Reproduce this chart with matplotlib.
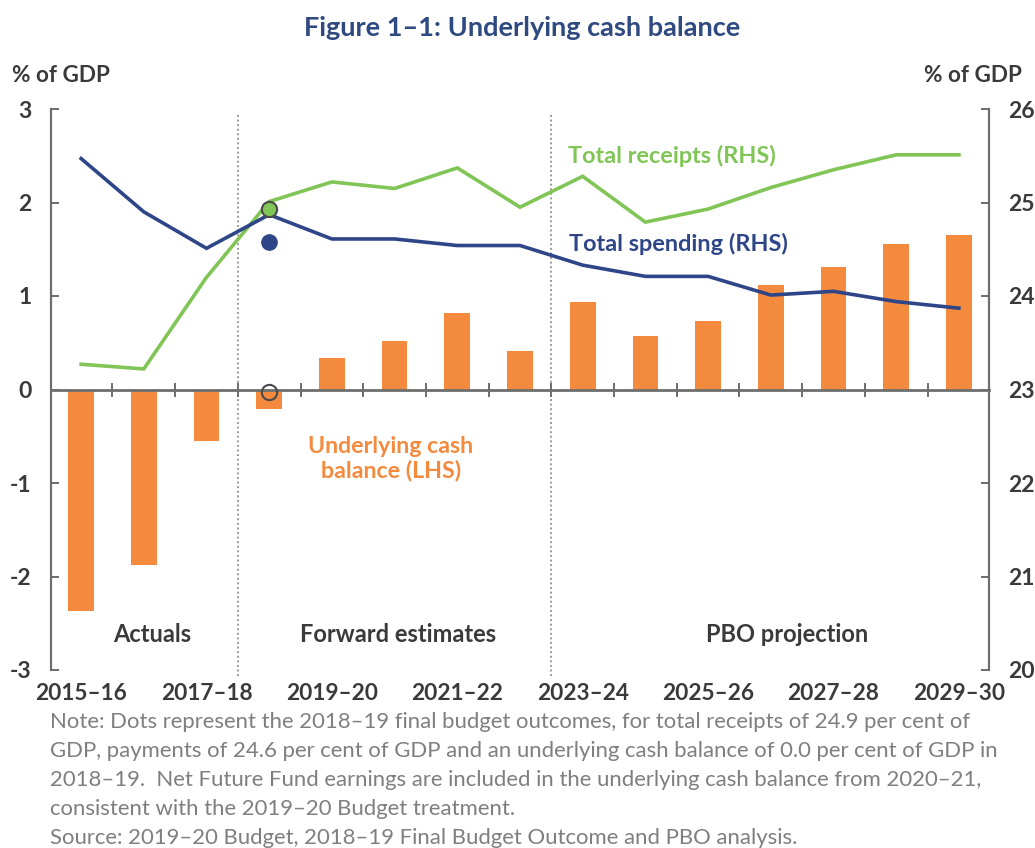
import numpy as np
import matplotlib
matplotlib.use('Agg')
import matplotlib.pyplot as plt
import matplotlib.transforms as mtransforms

plt.rcParams['font.family'] = ['Lato', 'DejaVu Sans']
plt.rcParams['axes.unicode_minus'] = False

# data
years = ['2015–16', '2016–17', '2017–18', '2018–19', '2019–20', '2020–21', '2021–22', '2022–23',
         '2023–24', '2024–25', '2025–26', '2026–27', '2027–28', '2028–29', '2029–30']
cash_balance = [-2.37, -1.88, -0.55, -0.21, 0.34, 0.52, 0.82, 0.41, 0.94, 0.57, 0.73, 1.12, 1.31, 1.56, 1.65]
receipts = [23.27, 23.22, 24.2, 25.01, 25.22, 25.15, 25.37, 24.95, 25.28, 24.79, 24.93, 25.16, 25.35, 25.51, 25.51]
spending = [25.47, 24.9, 24.51, 24.87, 24.61, 24.61, 24.54, 24.54, 24.33, 24.21, 24.21, 24.01, 24.05, 23.94, 23.87]

# 2018-19 final budget outcome dots
outcome_year = '2018–19'
outcome_receipts = 24.93
outcome_spending = 24.58
outcome_cash = -0.03

label_years = years[::2]
period_breaks = [2.5, 7.5]
periods = ['Actuals', 'Forward estimates', 'PBO projection']
period_centres = [1.13, 5.06, 11.26]

orange = '#F48A3E'
green = '#80C556'
navy = '#2E4688'
grey = '#6E6E6E'
text_dark = '#3A3A3A'

x = np.arange(len(years))
xo = years.index(outcome_year)

fig = plt.figure(figsize=(10.35, 8.48), dpi=100)
ax = fig.add_axes([51/1035, 1-670/848, (989-51)/1035, (670-109)/848])
ax2 = ax.twinx()

ax.bar(x, cash_balance, width=0.41, color=orange, zorder=2)
ax.plot(xo, outcome_cash, 'o', ms=11, mfc='none', mec='#4A4A4A', mew=1.5, zorder=5, clip_on=False)

ax2.plot(x, receipts, color=green, lw=2.6, solid_joinstyle='miter')
ax2.plot(x, spending, color=navy, lw=2.6, solid_joinstyle='miter')
ax2.plot(xo, outcome_receipts, 'o', ms=11, mfc=green, mec='#4A4A4A', mew=1.5, zorder=5)
ax2.plot(xo, outcome_spending, 'o', ms=11, mfc=navy, mec=navy, mew=1.0, zorder=5)

ax.set_xlim(-0.48, len(years) - 0.52)
ax.set_ylim(-3, 3)
ax2.set_ylim(20, 26)

# dotted period separators
for b in period_breaks:
    ax.axvline(b, ymin=-0.01, ymax=0.99, color='#7A7A7A', ls=(0, (1.2, 1.8)), lw=1.1, clip_on=False, zorder=1)

# spines
for a in (ax, ax2):
    a.spines['top'].set_visible(False)
ax.spines['right'].set_visible(False)
ax2.spines['left'].set_visible(False)
ax2.spines['bottom'].set_visible(False)
ax.spines['left'].set_color(grey)
ax.spines['left'].set_linewidth(1.6)
ax2.spines['right'].set_color(grey)
ax2.spines['right'].set_linewidth(1.6)
ax.spines['bottom'].set_position(('data', 0))
ax.spines['bottom'].set_color(grey)
ax.spines['bottom'].set_linewidth(2.0)
ax.spines['bottom'].set_zorder(3)

ax.set_xticks(x[:-1] + 0.5)
ax.set_xticklabels([])
ax.tick_params(axis='x', direction='inout', length=10, width=1.4, color=grey)

ax.set_yticks(np.arange(-3, 4, 1))
ax.set_yticklabels([str(v) for v in range(-3, 4)])
ax.tick_params(axis='y', direction='in', length=6, width=1.4, color=grey, pad=14,
               labelsize=16.5, labelcolor=text_dark)
for t in ax.get_yticklabels():
    t.set_fontweight('bold')
ax2.set_yticks(np.arange(20, 27, 1))
ax2.tick_params(axis='y', direction='in', length=6, width=1.4, color=grey, pad=14,
                labelsize=16.5, labelcolor=text_dark)
for t in ax2.get_yticklabels():
    t.set_fontweight('bold')

# year labels along the bottom
trans = mtransforms.blended_transform_factory(ax.transData, ax.transAxes)
for lab in label_years:
    ax.text(years.index(lab), -0.042, lab, transform=trans, ha='center', va='center',
            fontsize=16.3, fontweight='bold', color=text_dark)

# period names
for name, c in zip(periods, period_centres):
    ax.text(c, -2.62, name, ha='center', va='center', fontsize=17, fontweight='bold', color=text_dark)

# series labels
ax2.text(9.43, 25.5, 'Total receipts (RHS)', ha='center', va='center', fontsize=16.9, fontweight='bold', color=green)
ax2.text(9.52, 24.56, 'Total spending (RHS)', ha='center', va='center', fontsize=16.9, fontweight='bold', color=navy)
ax.text(4.94, -0.74, 'Underlying cash\nbalance (LHS)', ha='center', va='center', fontsize=16.7,
        fontweight='bold', color=orange, linespacing=1.15)

fig.text(522/1035, 1-28/848, 'Figure 1–1: Underlying cash balance', ha='center', va='center',
         fontsize=19.5, fontweight='bold', color='#2F4A80')
fig.text(12/1035, 1-75/848, '% of GDP', ha='left', va='center', fontsize=16.2, fontweight='bold', color=text_dark)
fig.text(1022/1035, 1-75/848, '% of GDP', ha='right', va='center', fontsize=16.2, fontweight='bold', color=text_dark)

note_lines = [
    'Note: Dots represent the 2018–19 final budget outcomes, for total receipts of 24.9 per cent of',
    'GDP, payments of 24.6 per cent of GDP and an underlying cash balance of 0.0 per cent of GDP in',
    '2018–19.  Net Future Fund earnings are included in the underlying cash balance from 2020–21,',
    'consistent with the 2019–20 Budget treatment.',
    'Source: 2019–20 Budget, 2018–19 Final Budget Outcome and PBO analysis.',
]
for i, line in enumerate(note_lines):
    fig.text(50/1035, 1-(722 + 29*i)/848, line, ha='left', va='center', fontsize=15.9, color='#7F7F7F')

fig.savefig('out.png', dpi=100)
